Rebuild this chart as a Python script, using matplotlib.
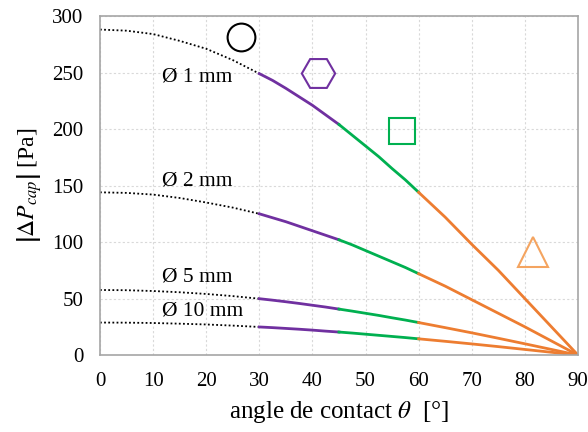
import numpy as np
import matplotlib.pyplot as plt

plt.rcParams['font.family'] = ['Liberation Serif', 'DejaVu Serif']
plt.rcParams['mathtext.fontset'] = 'stix'

# angle de contact (deg)
theta = [0, 5, 10, 15, 20, 25, 30, 32.5, 35, 37.5, 40, 42.5, 45, 47.5, 50, 52.5, 55, 57.5, 60,
         65, 70, 75, 80, 85, 90]
# |dP_cap| en Pa
p_1mm = [288, 287, 284, 278, 271, 261, 249, 243, 236, 228.5, 221, 212.5, 204, 194.5, 185, 175.5, 165, 155, 144,
         122, 98, 75, 50, 25, 0]
p_2mm = [144, 143.5, 142, 139, 135, 130.5, 125, 121.5, 118, 114, 110, 106, 102, 97.5, 92.5, 87.5, 82.5, 77.5, 72,
         61, 49, 37, 25, 12.5, 0]
p_5mm = [57.6, 57.4, 56.7, 55.6, 54.1, 52.2, 49.9, 48.6, 47.2, 45.7, 44.1, 42.5, 40.7, 38.9, 37, 35.1, 33, 31, 28.8,
         24.3, 19.7, 14.9, 10, 5, 0]
p_10mm = [28.8, 28.7, 28.4, 27.8, 27.1, 26.1, 24.9, 24.3, 23.6, 22.9, 22.1, 21.2, 20.4, 19.5, 18.5, 17.5, 16.5, 15.5, 14.4,
          12.2, 9.9, 7.5, 5, 2.5, 0]

labels = ['Ø 1 mm', 'Ø 2 mm', 'Ø 5 mm', 'Ø 10 mm']
label_pos = [(11.7, 246), (11.7, 154), (11.7, 69), (11.7, 39)]

purple = '#7030A0'
green = '#00B050'
orange = '#ED7D31'

fig = plt.figure(figsize=(5.88, 4.32), dpi=100)
ax = fig.add_axes([0.170, 0.178, 0.813, 0.785])

t = np.array(theta)
for p in [p_1mm, p_2mm, p_5mm, p_10mm]:
    p = np.array(p)
    m0 = t <= 30
    m1 = (t >= 30) & (t <= 45)
    m2 = (t >= 45) & (t <= 60)
    m3 = t >= 60
    ax.plot(t[m0], p[m0], color='black', lw=1.3, ls=(0, (1, 1.3)))
    ax.plot(t[m1], p[m1], color=purple, lw=2)
    ax.plot(t[m2], p[m2], color=green, lw=2)
    ax.plot(t[m3], p[m3], color=orange, lw=2)

for s, (x, y) in zip(labels, label_pos):
    ax.text(x, y, s, fontsize=15.5, ha='left', va='center')

# symboles
ax.plot(26.5, 281, 'o', ms=20, mfc='none', mec='black', mew=1.5)
ax.plot(41, 250, 'H', ms=24, mfc='none', mec=purple, mew=1.5)
ax.plot(56.8, 198, 's', ms=19, mfc='none', mec=green, mew=1.5)
ax.plot(81.5, 91, '^', ms=22, mfc='none', mec='#F4A460', mew=1.5)

ax.set_xlim(0, 90)
ax.set_ylim(0, 300)
ax.set_xticks(np.arange(0, 91, 10))
ax.set_yticks(np.arange(0, 301, 50))
ax.tick_params(length=0, labelsize=15)
ax.tick_params(axis='x', pad=12)
ax.tick_params(axis='y', pad=12)
ax.grid(True, color='#d9d9d9', ls=(0, (2, 2)), lw=0.8)
for sp in ax.spines.values():
    sp.set_color('#a6a6a6')
    sp.set_linewidth(1.2)

ax.set_xlabel(r'angle de contact $\theta$  [°]', fontsize=18, labelpad=6)
ax.set_ylabel(r'$\left|\Delta P_{cap}\right|$ [Pa]', fontsize=17, labelpad=6)

fig.savefig('out.png', dpi=100)
